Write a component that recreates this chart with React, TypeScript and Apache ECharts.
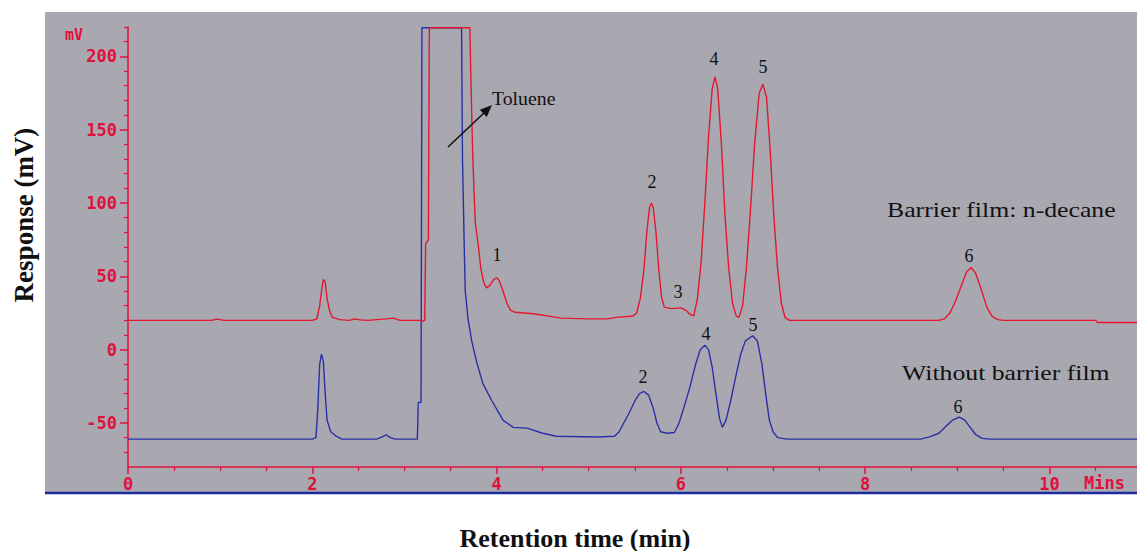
import React, { useEffect, useRef } from "react";
import * as echarts from "echarts";

// Barrier film: n-decane (red trace) [time (min), response (mV)]
const barrierTrace: [number, number][] = [
  [0, 20], [0.9, 20], [0.97, 20.8], [1.04, 20], [2.0, 20], [2.05, 21], [2.08, 30], [2.1, 40], [2.12, 48],
  [2.14, 46], [2.16, 35], [2.19, 26], [2.22, 22], [2.3, 20.5], [2.4, 20], [2.46, 21], [2.52, 20.3],
  [2.6, 20], [2.8, 21], [2.88, 21.5], [2.95, 20], [3.18, 20], [3.2, 19.5], [3.22, 20], [3.23, 72],
  [3.26, 75], [3.27, 219.5], [3.71, 219.5], [3.72, 188], [3.74, 135], [3.755, 108], [3.77, 86],
  [3.8, 72], [3.83, 55], [3.86, 46], [3.89, 42], [3.93, 44], [3.97, 48], [4.0, 49], [4.03, 47],
  [4.07, 40], [4.11, 32], [4.15, 27], [4.2, 25.5], [4.4, 24.5], [4.6, 22.5], [4.7, 21.5], [5.0, 21],
  [5.2, 21], [5.3, 22], [5.48, 23], [5.52, 25], [5.56, 35], [5.6, 55], [5.63, 80], [5.66, 97],
  [5.68, 100], [5.7, 97], [5.73, 80], [5.76, 55], [5.79, 36], [5.82, 29], [5.9, 28], [6.0, 28.5],
  [6.05, 27], [6.1, 24], [6.14, 23], [6.18, 35], [6.22, 60], [6.26, 100], [6.3, 145], [6.34, 178],
  [6.37, 186], [6.4, 178], [6.44, 140], [6.48, 90], [6.52, 55], [6.56, 32], [6.6, 23], [6.63, 22],
  [6.67, 30], [6.71, 55], [6.75, 90], [6.8, 140], [6.85, 175], [6.89, 181], [6.93, 172], [6.97, 135],
  [7.01, 90], [7.05, 55], [7.09, 32], [7.13, 22], [7.18, 20], [8.8, 20], [8.86, 21], [8.92, 25],
  [8.98, 33], [9.04, 43], [9.1, 53], [9.15, 56], [9.2, 52], [9.26, 41], [9.32, 29], [9.38, 22.5],
  [9.44, 20.5], [9.5, 20], [10.5, 20], [10.52, 18.5], [10.95, 18.5],
];

// Without barrier film (blue trace)
const noBarrierTrace: [number, number][] = [
  [0, -61], [2.0, -61], [2.04, -60], [2.06, -40], [2.08, -10], [2.1, -3], [2.12, -8], [2.14, -30],
  [2.16, -48], [2.2, -56], [2.26, -59], [2.32, -61], [2.7, -61], [2.76, -59.5], [2.8, -58],
  [2.85, -60], [2.9, -61], [3.14, -61], [3.15, -36], [3.18, -36], [3.19, 219.5], [3.62, 219.5],
  [3.63, 130], [3.65, 67], [3.66, 40], [3.69, 21], [3.73, 6], [3.78, -7.5], [3.85, -23], [3.95, -35],
  [4.07, -48], [4.18, -53], [4.33, -53.5], [4.5, -57], [4.65, -59], [5.1, -59.5], [5.28, -59],
  [5.33, -56], [5.38, -50], [5.44, -43], [5.5, -35], [5.55, -30], [5.6, -28.5], [5.65, -31],
  [5.7, -40], [5.74, -50], [5.78, -56], [5.85, -57], [5.93, -56.5], [5.98, -50], [6.04, -38],
  [6.1, -25], [6.16, -10], [6.21, 0], [6.26, 3], [6.3, 0], [6.34, -12], [6.38, -30], [6.42, -47],
  [6.45, -53], [6.49, -48], [6.54, -35], [6.6, -17], [6.65, -3], [6.7, 6], [6.78, 9.5], [6.83, 6],
  [6.88, -10], [6.92, -30], [6.96, -48], [7.0, -56], [7.05, -60], [7.15, -61], [8.6, -61],
  [8.7, -59.5], [8.8, -57], [8.88, -52], [8.95, -48], [9.02, -46], [9.08, -48], [9.14, -53],
  [9.2, -58], [9.27, -60.5], [9.35, -61], [10.95, -61],
];

const yLabelValues = [-50, 0, 50, 100, 150, 200];
const yMinorValues = [-70, -60, -40, -30, -20, -10, 10, 20, 30, 40, 60, 70, 80, 90, 110, 120, 130, 140, 160, 170, 180, 190, 210, 220];
const xLabelValues = [0, 2, 4, 6, 8, 10];
const xMinorValues = [0.5, 1, 1.5, 2.5, 3, 3.5, 4.5, 5, 5.5, 6.5, 7, 7.5, 8.5, 9, 9.5, 10.5];

const AXIS_RED = "#e0103c";
const LINE_RED = "#e5172f";
const LINE_BLUE = "#2b2fa6";
const MONO = '"DejaVu Sans Mono", monospace';
const SERIF = '"Liberation Serif", "Times New Roman", serif';

export default function App() {
  const ref = useRef<HTMLDivElement>(null);
  useEffect(() => {
    if (!ref.current) return;
    const chart = echarts.init(ref.current, null, { renderer: "svg" });
    const axLabel = { color: AXIS_RED, fontFamily: MONO, fontWeight: "bold" as const, fontSize: 17 };
    const peakText = (t: string, x: number, y: number) => ({
      type: "text", x, y, z: 50,
      style: { text: t, textAlign: "center", textVerticalAlign: "middle", font: `18px ${SERIF}`, fill: "#111" },
    });
    chart.setOption({
      animation: false,
      backgroundColor: "#ffffff",
      grid: { left: 128, right: 0, top: 27, bottom: 84, containLabel: false },
      xAxis: [
        {
          type: "value", min: 0, max: 10.95,
          axisLine: { onZero: false, lineStyle: { color: AXIS_RED, width: 1.5 } },
          axisTick: { customValues: xLabelValues, length: 7, lineStyle: { color: AXIS_RED, width: 1.5 } },
          axisLabel: { customValues: xLabelValues, margin: 8, ...axLabel },
          splitLine: { show: false },
        },
        {
          type: "value", min: 0, max: 10.95, position: "bottom",
          axisLine: { show: false, onZero: false },
          axisTick: { customValues: xMinorValues, length: 4, lineStyle: { color: AXIS_RED, width: 1.2 } },
          axisLabel: { show: false },
          splitLine: { show: false },
        },
      ],
      yAxis: [
        {
          type: "value", min: -80, max: 220,
          axisLine: { show: true, onZero: false, lineStyle: { color: AXIS_RED, width: 1.5 } },
          axisTick: { show: true, customValues: yLabelValues, length: 8, lineStyle: { color: AXIS_RED, width: 1.5 } },
          axisLabel: { customValues: yLabelValues, margin: 11, ...axLabel },
          splitLine: { show: false },
        },
        {
          type: "value", min: -80, max: 220, position: "left",
          axisLine: { show: false, onZero: false },
          axisTick: { show: true, customValues: yMinorValues, length: 4, lineStyle: { color: AXIS_RED, width: 1.2 } },
          axisLabel: { show: false },
          splitLine: { show: false },
        },
      ],
      series: [
        {
          name: "Without barrier film", type: "line", data: noBarrierTrace, showSymbol: false,
          lineStyle: { color: LINE_BLUE, width: 1.4 }, z: 3,
        },
        {
          name: "Barrier film: n-decane", type: "line", data: barrierTrace, showSymbol: false,
          lineStyle: { color: LINE_RED, width: 1.4 }, z: 4,
        },
      ],
      graphic: [
        { type: "rect", z: -10, shape: { x: 45, y: 12, width: 1092, height: 481 }, style: { fill: "#a9a8b0" } },
        { type: "line", z: 5, shape: { x1: 45, y1: 493, x2: 1137, y2: 493 }, style: { stroke: "#1c2c9c", lineWidth: 2.5 } },
        { type: "text", x: 65, y: 35, z: 50, style: { text: "mV", font: `bold 15px ${MONO}`, fill: AXIS_RED, textVerticalAlign: "middle" } },
        { type: "text", x: 1084, y: 483, z: 50, style: { text: "Mins", font: `bold 17px ${MONO}`, fill: AXIS_RED, textVerticalAlign: "middle" } },
        {
          type: "text", x: 24, y: 215, rotation: Math.PI / 2, z: 50,
          style: { text: "Response (mV)", textAlign: "center", textVerticalAlign: "middle", font: `bold 27px ${SERIF}`, fill: "#111" },
        },
        {
          type: "text", x: 575, y: 538, z: 50,
          style: { text: "Retention time (min)", textAlign: "center", textVerticalAlign: "middle", font: `bold 26px ${SERIF}`, fill: "#111" },
        },
        { type: "text", x: 492, y: 99, z: 50, scaleX: 1.1, style: { text: "Toluene", textVerticalAlign: "middle", font: `18px ${SERIF}`, fill: "#111" } },
        { type: "line", z: 50, shape: { x1: 448, y1: 147, x2: 485, y2: 112 }, style: { stroke: "#111", lineWidth: 1.6 } },
        { type: "polygon", z: 50, shape: { points: [[492, 105], [486.8, 116.9], [479.8, 109.7]] }, style: { fill: "#111" } },
        { type: "text", x: 887, y: 210, z: 50, scaleX: 1.17, style: { text: "Barrier film: n-decane", textVerticalAlign: "middle", font: `22px ${SERIF}`, fill: "#111" } },
        { type: "text", x: 902, y: 373, z: 50, scaleX: 1.17, style: { text: "Without barrier film", textVerticalAlign: "middle", font: `22px ${SERIF}`, fill: "#111" } },
        peakText("1", 497, 255),
        peakText("2", 652, 182),
        peakText("3", 678, 292),
        peakText("4", 714, 59),
        peakText("5", 763, 67),
        peakText("6", 969, 256),
        peakText("2", 643, 377),
        peakText("4", 706, 334),
        peakText("5", 753, 325),
        peakText("6", 958, 407),
      ],
    });
    return () => chart.dispose();
  }, []);
  return <div ref={ref} style={{ position: "absolute", left: 0, top: 0, width: 1137, height: 551 }} />;
}
